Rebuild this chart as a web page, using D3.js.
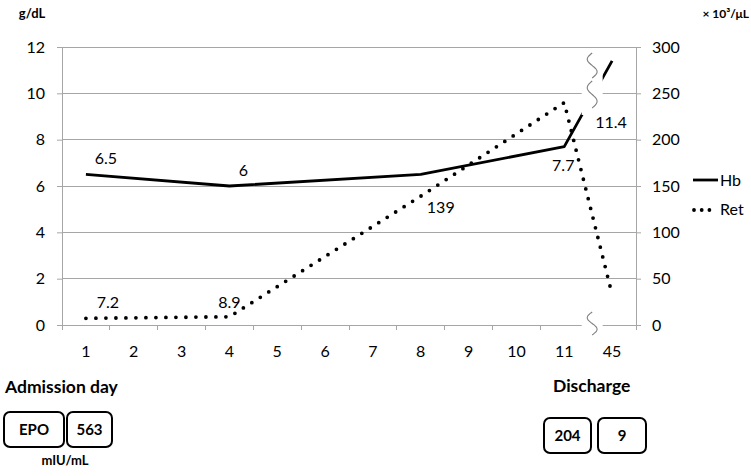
<!DOCTYPE html>
<html><head><meta charset="utf-8">
<script src="https://cdn.jsdelivr.net/npm/d3@7"></script>
<style>body{margin:0;background:#fff}svg{display:block}</style>
</head><body>
<svg id="c" width="751" height="476"></svg>
<script>
const days = ["1","2","3","4","5","6","7","8","9","10","11","45"];
const hb  = [6.5,null,null,6,null,null,null,6.5,null,null,7.7,11.4];
const ret = [7.2,null,null,8.9,null,null,null,139,null,null,240,33];
const hbLabels  = [{d:"1",t:"6.5",dx:20,dy:-10},{d:"4",t:"6",dx:14,dy:-10},{d:"11",t:"7.7",dx:-1,dy:24},{d:"45",t:"11.4",dx:-1,dy:67}];
const retLabels = [{d:"1",t:"7.2",dx:22,dy:-10},{d:"4",t:"8.9",dx:0,dy:-9},{d:"8",t:"139",dx:20,dy:17}];
const leftTicks = [0,2,4,6,8,10,12];
const rightTicks = [0,50,100,150,200,250,300];

const svg = d3.select("#c");
const F = "Lato, 'Open Sans', sans-serif";
const L = 62, R = 636, T = 47, B = 325;
const x = d3.scaleBand().domain(days).range([L,R]);
const xc = d => x(d) + x.bandwidth()/2;
const yL = d3.scaleLinear().domain([0,12]).range([B,T]);
const yR = d3.scaleLinear().domain([0,300]).range([B,T]);
const grid = "#a6a6a6";

// gridlines
svg.append("g").selectAll("line").data(leftTicks.slice(1)).join("line")
  .attr("x1",L).attr("x2",R).attr("y1",d=>yL(d)).attr("y2",d=>yL(d))
  .attr("stroke",grid).attr("stroke-width",1).attr("shape-rendering","crispEdges");

// left axis
const gl = svg.append("g").attr("transform",`translate(${L},0)`)
  .call(d3.axisLeft(yL).tickValues(leftTicks).tickSize(5).tickSizeOuter(0).tickPadding(12));
gl.select(".domain").attr("stroke",grid);
gl.selectAll(".tick line").attr("stroke",grid);
gl.selectAll("text").attr("font-family",F).attr("font-size",16).attr("fill","#000");

// right axis
const gr = svg.append("g").attr("transform",`translate(${R},0)`)
  .call(d3.axisRight(yR).tickValues(rightTicks).tickSize(5).tickSizeOuter(0).tickPadding(11));
gr.select(".domain").attr("stroke",grid);
gr.selectAll(".tick line").attr("stroke",grid);
gr.selectAll("text").attr("font-family",F).attr("font-size",16).attr("fill","#000");

// x axis line + boundary ticks
svg.append("line").attr("x1",L).attr("x2",R).attr("y1",B).attr("y2",B)
  .attr("stroke",grid).attr("shape-rendering","crispEdges");
const bounds = days.map(d=>x(d)).concat([R]);
svg.append("g").selectAll("line").data(bounds).join("line")
  .attr("x1",d=>d).attr("x2",d=>d).attr("y1",B).attr("y2",B+5)
  .attr("stroke",grid).attr("shape-rendering","crispEdges");
svg.append("g").selectAll("text").data(days).join("text")
  .attr("x",d=>xc(d)).attr("y",357).attr("text-anchor","middle")
  .attr("font-family",F).attr("font-size",16).text(d=>d);

// Hb line
const hbPts = days.map((d,i)=>({d,v:hb[i]})).filter(p=>p.v!=null);
svg.append("path").datum(hbPts)
  .attr("d",d3.line().x(p=>xc(p.d)).y(p=>yL(p.v)))
  .attr("fill","none").attr("stroke","#000").attr("stroke-width",2.8).attr("stroke-linejoin","round");

// break gap
const gc = (xc("11")+xc("45"))/2 + 4;
svg.append("rect").attr("x",gc-10.5).attr("width",21).attr("y",50).attr("height",65).attr("fill","#fff");
svg.append("rect").attr("x",gc-10.5).attr("width",21).attr("y",B-6).attr("height",12).attr("fill","#fff");

// Ret dotted line
const retPts = days.map((d,i)=>({d,v:ret[i]})).filter(p=>p.v!=null);
svg.append("path").datum(retPts)
  .attr("d",d3.line().x(p=>xc(p.d)).y(p=>yR(p.v)))
  .attr("fill","none").attr("stroke","#000").attr("stroke-width",3.8)
  .attr("stroke-linecap","round").attr("stroke-dasharray","0 10");

// squiggles
function squiggle(cx,y0,h){
  const pts = d3.range(0,1.0001,0.05).map(t=>[cx - 5*Math.sin(2*Math.PI*t), y0 + t*h]);
  svg.append("path").attr("d",d3.line().curve(d3.curveBasis)(pts))
    .attr("fill","none").attr("stroke","#7f7f7f").attr("stroke-width",1.1);
}
squiggle(gc,53,25);
squiggle(gc,81,27);
squiggle(gc,312,23);

// data labels
svg.append("g").selectAll("text").data(hbLabels).join("text")
  .attr("x",l=>xc(l.d)+l.dx).attr("y",l=>yL(hb[days.indexOf(l.d)])+l.dy)
  .attr("text-anchor","middle").attr("font-family",F).attr("font-size",16).text(l=>l.t);
svg.append("g").selectAll("text").data(retLabels).join("text")
  .attr("x",l=>xc(l.d)+l.dx).attr("y",l=>yR(ret[days.indexOf(l.d)])+l.dy)
  .attr("text-anchor","middle").attr("font-family",F).attr("font-size",16).text(l=>l.t);

// legend
svg.append("line").attr("x1",693).attr("x2",718).attr("y1",180).attr("y2",180)
  .attr("stroke","#000").attr("stroke-width",2.8);
svg.append("text").attr("x",720).attr("y",186).attr("font-family",F).attr("font-size",16).text("Hb");
svg.append("line").attr("x1",694).attr("x2",710).attr("y1",210).attr("y2",210)
  .attr("stroke","#000").attr("stroke-width",3.8).attr("stroke-linecap","round").attr("stroke-dasharray","0 7.7");
svg.append("text").attr("x",720).attr("y",215).attr("font-family",F).attr("font-size",16).text("Ret");

// unit labels
svg.append("text").attr("x",32).attr("y",18).attr("text-anchor","middle")
  .attr("font-family",F).attr("font-weight","bold").attr("font-size",13).text("g/dL");
svg.append("text").attr("x",749).attr("y",18).attr("text-anchor","end")
  .attr("font-family",F).attr("font-weight","bold").attr("font-size",12).text("× 10³/μL");

// bottom annotations
svg.append("text").attr("x",5).attr("y",393).attr("font-family",F).attr("font-weight","bold").attr("font-size",17.5).text("Admission day");
svg.append("text").attr("x",553).attr("y",392).attr("font-family",F).attr("font-weight","bold").attr("font-size",17.5).text("Discharge");
const boxes = [
  {x:4,y:412,w:60,h:35,t:"EPO"},
  {x:67,y:412,w:45,h:35,t:"563"},
  {x:544,y:418,w:47,h:35,t:"204"},
  {x:598,y:418,w:48,h:35,t:"9"}
];
svg.append("g").selectAll("rect").data(boxes).join("rect")
  .attr("x",b=>b.x).attr("y",b=>b.y).attr("width",b=>b.w).attr("height",b=>b.h)
  .attr("rx",6).attr("fill","#fff").attr("stroke","#000").attr("stroke-width",2);
svg.append("g").selectAll("text").data(boxes).join("text")
  .attr("x",b=>b.x+b.w/2).attr("y",b=>b.y+b.h/2+5).attr("text-anchor","middle")
  .attr("font-family",F).attr("font-weight","bold").attr("font-size",15).text(b=>b.t);
svg.append("text").attr("x",65).attr("y",465).attr("text-anchor","middle")
  .attr("font-family",F).attr("font-weight","bold").attr("font-size",13).text("mIU/mL");
</script>
</body></html>
